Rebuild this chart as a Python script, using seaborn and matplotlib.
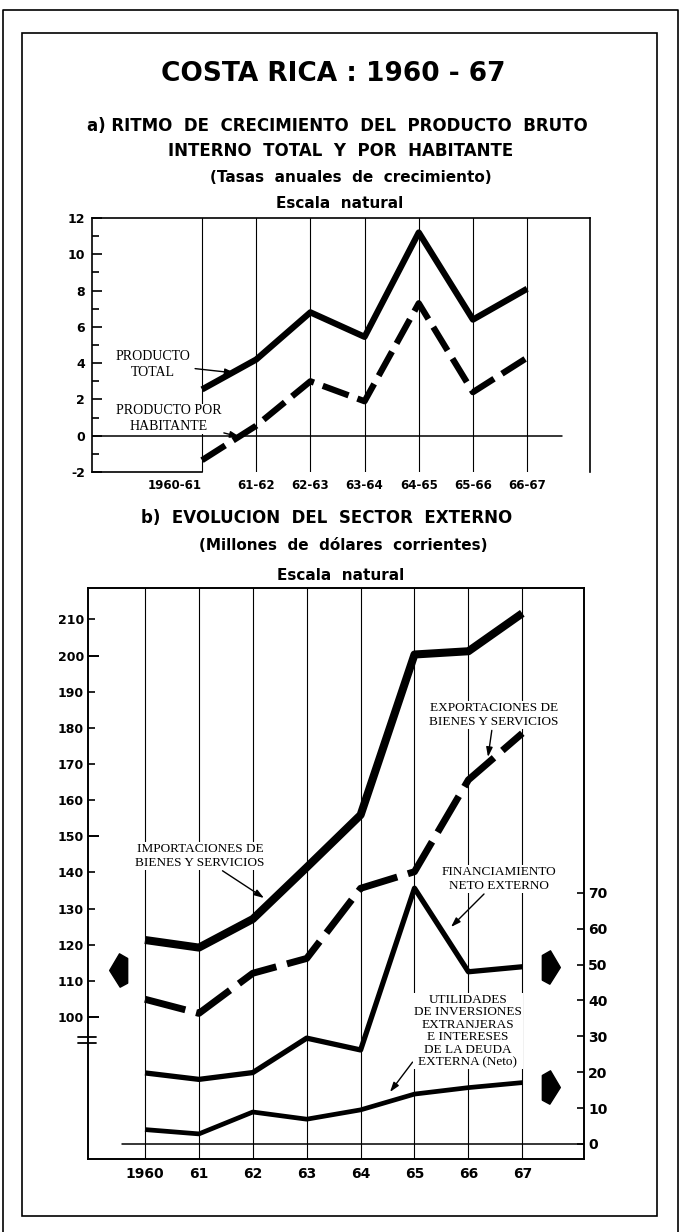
import numpy as np
import matplotlib.pyplot as plt
from matplotlib.lines import Line2D
from matplotlib.patches import Rectangle
from matplotlib.path import Path
import seaborn as sns
import pandas as pd

# a) tasas anuales de crecimiento del producto
periodos = ['1960-61', '61-62', '62-63', '63-64', '64-65', '65-66', '66-67']
producto_total = [2.55, 4.2, 6.8, 5.45, 11.2, 6.4, 8.1]
producto_habitante = [-1.35, 0.55, 3.0, 1.9, 7.3, 2.4, 4.3]

# b) sector externo (millones de dolares)
anios = ['1960', '61', '62', '63', '64', '65', '66', '67']
importaciones = [121.3, 119.2, 127.1, 141.4, 155.9, 200.3, 201.2, 211.7]
exportaciones = [104.9, 101.0, 112.1, 116.2, 135.6, 140.2, 165.6, 178.5]
financiamiento = [19.8, 18.0, 19.9, 29.5, 26.2, 71.3, 48.0, 49.4]
utilidades = [4.0, 2.8, 8.9, 6.9, 9.5, 13.9, 15.7, 17.1]

W, H = 683, 1232


def fx(x):
    return x / W


def fy(y):
    return 1 - y / H


sns.set_style('white')
plt.rcParams['font.family'] = ['DejaVu Sans']
plt.rcParams['font.weight'] = 'bold'
plt.rcParams['axes.unicode_minus'] = False
plt.rcParams['axes.edgecolor'] = 'black'
plt.rcParams['axes.linewidth'] = 1.2
plt.rcParams['text.color'] = 'black'
plt.rcParams['xtick.color'] = 'black'
plt.rcParams['ytick.color'] = 'black'
plt.rcParams['axes.labelcolor'] = 'black'
SERIF = ['Liberation Serif', 'DejaVu Serif']

fig = plt.figure(figsize=(W / 100, H / 100), dpi=100)

# marcos
fig.add_artist(Line2D([fx(3), fx(3), fx(678), fx(678)], [fy(1240), fy(10), fy(10), fy(1240)],
                      color='black', lw=1.2))
fig.add_artist(Rectangle((fx(22), fy(1216)), fx(657) - fx(22), fy(33) - fy(1216),
                         fill=False, ec='black', lw=1.2, transform=fig.transFigure))

# titulos
fig.text(fx(333), fy(74), 'COSTA RICA : 1960 - 67', ha='center', va='center', fontsize=19)
fig.text(fx(337), fy(126), 'a) RITMO  DE  CRECIMIENTO  DEL  PRODUCTO  BRUTO',
         ha='center', va='center', fontsize=12)
fig.text(fx(341), fy(151), 'INTERNO  TOTAL  Y  POR  HABITANTE', ha='center', va='center', fontsize=12)
fig.text(fx(351), fy(177), '(Tasas  anuales  de  crecimiento)', ha='center', va='center', fontsize=11)
fig.text(fx(340), fy(203), 'Escala  natural', ha='center', va='center', fontsize=11)

fig.text(fx(327), fy(518), 'b)  EVOLUCION  DEL  SECTOR  EXTERNO', ha='center', va='center', fontsize=12)
fig.text(fx(343), fy(545), '(Millones  de  dólares  corrientes)', ha='center', va='center', fontsize=11)
fig.text(fx(341), fy(575), 'Escala  natural', ha='center', va='center', fontsize=11)

# ---------- grafico a ----------
ax1 = fig.add_axes([fx(92), fy(472), fx(590) - fx(92), fy(218) - fy(472)])
df_a = pd.DataFrame({'pos': np.arange(len(periodos)), 'total': producto_total,
                     'habitante': producto_habitante})
sns.lineplot(data=df_a, x='pos', y='total', ax=ax1, color='black', lw=4.5,
             solid_capstyle='butt', zorder=3)
sns.lineplot(data=df_a, x='pos', y='habitante', ax=ax1, color='black', lw=4.5,
             linestyle=(0, (4.4, 1.5)), dash_capstyle='butt', zorder=3)
ax1.set_xlim(-2.03, 7.16)
ax1.set_ylim(-2, 12)
ax1.set_xticks(range(len(periodos)))
ax1.set_xticklabels(periodos)
ax1.get_xticklabels()[0].set_ha('right')
ax1.grid(axis='x', color='black', lw=0.8)
ax1.tick_params(axis='x', length=0, pad=5, labelsize=8.5)
ax1.set_yticks(range(-2, 13, 2))
ax1.set_yticks(range(-1, 12, 2), minor=True)
ax1.tick_params(axis='y', which='major', direction='in', length=7, width=1.2, labelsize=9, pad=5, left=True)
ax1.tick_params(axis='y', which='minor', direction='in', length=5, width=1.2, left=True)
ax1.spines['bottom'].set_bounds(-2.03, 0)
ax1.axhline(0, xmin=0, xmax=(562 - 92) / (590 - 92), color='black', lw=1.1)
ax1.set_xlabel('')
ax1.set_ylabel('')

arrow = dict(arrowstyle='-|>,head_length=0.6,head_width=0.2', color='black', lw=1,
             shrinkA=1, shrinkB=0)
ax1.annotate('PRODUCTO\nTOTAL', xy=(fx(235), fy(373)), xycoords='figure fraction',
             xytext=(fx(153), fy(364)), textcoords='figure fraction', ha='center', va='center',
             family=SERIF, weight='normal', fontsize=10, linespacing=1.3, arrowprops=arrow)
ax1.annotate('PRODUCTO POR\nHABITANTE', xy=(fx(240), fy(437)), xycoords='figure fraction',
             xytext=(fx(169), fy(419)), textcoords='figure fraction', ha='center', va='center',
             family=SERIF, weight='normal', fontsize=10, linespacing=1.3, arrowprops=arrow,
             bbox=dict(fc='white', ec='none', pad=0.5))

# ---------- grafico b ----------
ax2 = fig.add_axes([fx(88), fy(1159), fx(584) - fx(88), fy(588) - fy(1159)])
df_b = pd.DataFrame({'pos': np.arange(len(anios)), 'imp': importaciones, 'exp': exportaciones,
                     'fin': financiamiento, 'uti': utilidades})
sns.lineplot(data=df_b, x='pos', y='imp', ax=ax2, color='black', lw=5.8,
             solid_capstyle='butt', zorder=3)
sns.lineplot(data=df_b, x='pos', y='exp', ax=ax2, color='black', lw=5.0,
             linestyle=(0, (6, 1.6)), dash_capstyle='butt', zorder=3)
ax2.set_xlim(-1.058, 8.145)
ax2.set_ylim(60.7, 218.7)
ax2.set_xticks(range(len(anios)))
ax2.set_xticklabels(anios)
ax2.grid(axis='x', color='black', lw=0.8)
ax2.tick_params(axis='x', length=0, pad=6, labelsize=10)
ax2.set_yticks([100, 150, 200])
ax2.set_yticks([110, 120, 130, 140, 160, 170, 180, 190, 210], minor=True)
ax2.set_yticklabels(['100', '150', '200'])
ax2.set_yticklabels(['110', '120', '130', '140', '160', '170', '180', '190', '210'], minor=True)
ax2.tick_params(axis='y', which='major', direction='in', length=8, width=1.4, labelsize=9, pad=3, left=True)
ax2.tick_params(axis='y', which='minor', direction='in', length=5, width=1.2, labelsize=9, pad=3, left=True)
ax2.set_xlabel('')
ax2.set_ylabel('')

ax3 = ax2.twinx()
sns.lineplot(data=df_b, x='pos', y='fin', ax=ax3, color='black', lw=3.8,
             solid_capstyle='butt', zorder=3)
sns.lineplot(data=df_b, x='pos', y='uti', ax=ax3, color='black', lw=3.4,
             solid_capstyle='butt', zorder=3)
ax3.set_ylim(-4.2, 155)
ax3.set_yticks(range(0, 71, 10))
ax3.tick_params(axis='y', direction='in', length=5, width=1.2, labelsize=10, pad=3, right=True)
ax3.axhline(0, xmin=(122 - 88) / (584 - 88), xmax=1, color='black', lw=1.1)
ax3.set_xlabel('')
ax3.set_ylabel('')

# corte del eje izquierdo
for yb in (1037, 1043):
    fig.add_artist(Line2D([fx(78), fx(96)], [fy(yb), fy(yb)], color='black', lw=1.3))

# flechas indicadoras de escala
izq = Path([(-0.53, 0), (0.06, 1), (0.55, 0.72), (0.55, -0.76), (0.1, -1), (-0.53, 0)],
           [Path.MOVETO, Path.LINETO, Path.LINETO, Path.LINETO, Path.LINETO, Path.CLOSEPOLY])
der = Path([(0.53, 0), (-0.06, 1), (-0.55, 0.72), (-0.55, -0.76), (-0.1, -1), (0.53, 0)],
           [Path.MOVETO, Path.LINETO, Path.LINETO, Path.LINETO, Path.LINETO, Path.CLOSEPOLY])
fig.add_artist(Line2D([fx(118)], [fy(970)], marker=izq, ms=24, color='black', lw=0))
fig.add_artist(Line2D([fx(551)], [fy(967)], marker=der, ms=24, color='black', lw=0))
fig.add_artist(Line2D([fx(551)], [fy(1087)], marker=der, ms=24, color='black', lw=0))

# leyendas con flechas
lbl = dict(xycoords='figure fraction', textcoords='figure fraction', ha='center', va='center',
           family=SERIF, weight='normal', fontsize=9.5, linespacing=1.3, arrowprops=arrow,
           bbox=dict(fc='white', ec='none', pad=0.5))
ax3.annotate('EXPORTACIONES DE\nBIENES Y SERVICIOS', xy=(fx(488), fy(757)),
             xytext=(fx(494), fy(715)), **lbl)
ax3.annotate('IMPORTACIONES DE\nBIENES Y SERVICIOS', xy=(fx(264), fy(898)),
             xytext=(fx(200), fy(856)), **lbl)
ax3.annotate('FINANCIAMIENTO\nNETO EXTERNO', xy=(fx(451), fy(927)),
             xytext=(fx(499), fy(879)), **lbl)
ax3.annotate('UTILIDADES\nDE INVERSIONES\nEXTRANJERAS\nE INTERESES\nDE LA DEUDA\nEXTERNA (Neto)',
             xy=(fx(390), fy(1092)), xytext=(fx(468), fy(1031)),
             **dict(lbl, linespacing=1.05, arrowprops=dict(arrow, relpos=(0.1, 0.3))))

fig.savefig('out.png', dpi=100)
